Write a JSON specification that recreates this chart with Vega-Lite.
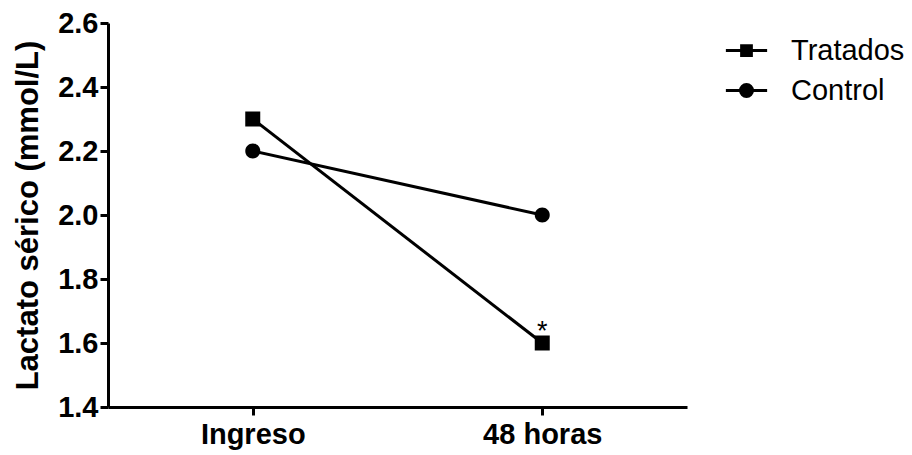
{
  "$schema": "https://vega.github.io/schema/vega-lite/v6.json",
  "width": 579,
  "height": 384,
  "autosize": {"type": "none"},
  "padding": {"left": 108, "top": 23, "right": 225, "bottom": 48},
  "background": "white",
  "config": {
    "view": {"stroke": null},
    "axis": {
      "domainColor": "black", "domainWidth": 3, "tickColor": "black", "tickWidth": 3, "tickSize": 8,
      "grid": false, "labelFont": "Liberation Sans", "labelFontWeight": "bold", "labelFontSize": 29,
      "labelColor": "black", "titleFont": "Liberation Sans", "titleFontWeight": "bold", "titleFontSize": 31, "titleColor": "black"
    }
  },
  "data": {"values": [
    {"tiempo": "Ingreso", "grupo": "Tratados", "lactato": 2.3, "marca": ""},
    {"tiempo": "48 horas", "grupo": "Tratados", "lactato": 1.6, "marca": "*"},
    {"tiempo": "Ingreso", "grupo": "Control", "lactato": 2.2, "marca": ""},
    {"tiempo": "48 horas", "grupo": "Control", "lactato": 2.0, "marca": ""}
  ]},
  "encoding": {
    "x": {"field": "tiempo", "type": "nominal", "sort": ["Ingreso", "48 horas"],
      "scale": {"type": "point", "padding": 0.5},
      "axis": {"title": null, "labelAngle": 0, "labelPadding": 5}},
    "y": {"field": "lactato", "type": "quantitative",
      "scale": {"domain": [1.4, 2.6], "nice": false, "zero": false},
      "axis": {"title": "Lactato sérico (mmol/L)", "values": [1.4, 1.6, 1.8, 2.0, 2.2, 2.4, 2.6], "format": ".1f", "labelPadding": 2, "titlePadding": 13}}
  },
  "layer": [
    {"mark": {"type": "line", "color": "black", "strokeWidth": 3},
     "encoding": {
       "detail": {"field": "grupo"},
       "opacity": {"field": "grupo", "type": "nominal",
         "scale": {"domain": ["Tratados", "Control"], "range": [1, 1]},
         "legend": {"title": null, "orient": "none", "legendX": 624, "legendY": 13,
           "labelFont": "Liberation Sans", "labelFontSize": 29, "labelColor": "black", "labelOffset": 30,
           "symbolSize": 225, "rowPadding": 10, "padding": 0,
           "encoding": {"symbols": {
             "shape": {"value": {"expr": "datum.value === 'Tratados' ? 'M-2.75,0H-0.65M0.65,0H2.75M-0.65,-0.65H0.65V0.65H-0.65Z' : 'M-2.75,0H-0.8M0.8,0H2.75M0.8,0A0.8,0.8,0,1,1,-0.8,0A0.8,0.8,0,1,1,0.8,0Z'"}},
             "fill": {"value": "black"},
             "stroke": {"value": "black"},
             "strokeWidth": {"value": 3}
           }}}}
     }},
    {"transform": [{"filter": "datum.grupo === 'Tratados'"}],
     "mark": {"type": "point", "filled": true, "color": "black", "opacity": 1, "size": 225, "shape": "square"}},
    {"transform": [{"filter": "datum.grupo === 'Control'"}],
     "mark": {"type": "point", "filled": true, "color": "black", "opacity": 1, "size": 225, "shape": "M1,0A1,1,0,1,1,-1,0A1,1,0,1,1,1,0Z"}},
    {"mark": {"type": "text", "font": "Liberation Sans", "fontSize": 27, "color": "black", "baseline": "middle", "dy": -11},
     "encoding": {"text": {"field": "marca"}}}
  ]
}
